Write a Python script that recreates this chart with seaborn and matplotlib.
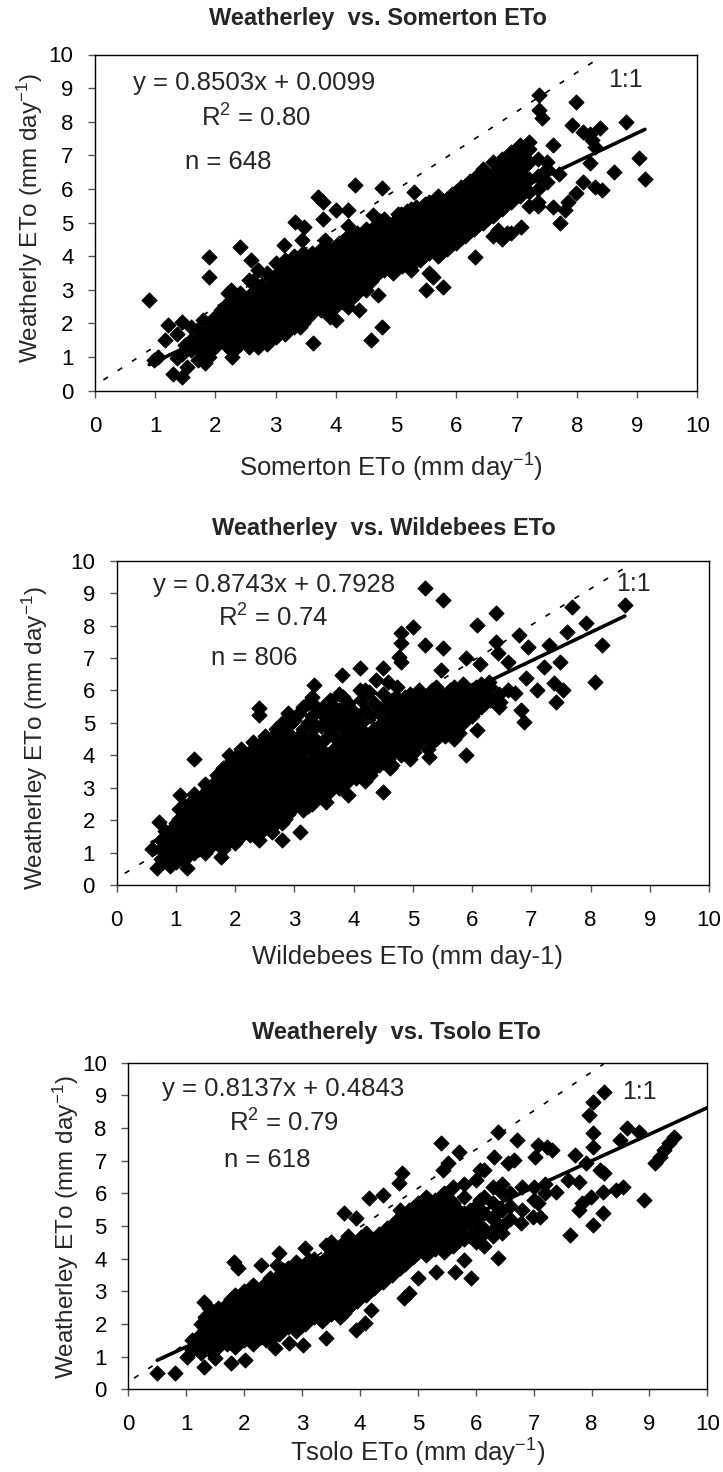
import numpy as np
import pandas as pd
import seaborn as sns
import matplotlib
matplotlib.use("Agg")
import matplotlib.pyplot as plt

# ---------------- data ----------------
titles = ["Weatherley  vs. Somerton ETo", "Weatherley  vs. Wildebees ETo", "Weatherely  vs. Tsolo ETo"]
xlabels = ["Somerton ETo (mm day$^{-1}$)", "Wildebees ETo (mm day-1)", "Tsolo ETo (mm day$^{-1}$)"]
ylabels = ["Weatherly ETo (mm day$^{-1}$)", "Weatherley ETo (mm day$^{-1}$)", "Weatherley ETo (mm day$^{-1}$)"]
slopes = [0.8503, 0.8743, 0.8137]
intercepts = [0.0099, 0.7928, 0.4843]
r2_values = ["0.80", "0.74", "0.79"]
n_values = [648, 806, 618]
trend_x_max = [None, None, 10.0]
ticks = [0, 1, 2, 3, 4, 5, 6, 7, 8, 9, 10]
# hand-drawn "1:1" reference lines (start / end points)
oneone_x = [[0.14, 8.4], [0.14, 8.66], [0.10, 8.21]]
oneone_y = [[0.32, 9.93], [0.36, 9.87], [0.34, 9.96]]

somerton_pts = [
    (0.9, 2.7), (0.98, 0.91), (1.05, 1.0), (1.21, 1.95), (1.44, 2.05), (1.17, 1.5), (1.36, 1.7),
    (1.29, 0.5), (1.44, 0.42), (1.52, 0.7), (1.36, 0.96), (1.6, 1.9), (1.79, 2.1), (1.71, 0.91),
    (1.82, 0.81), (1.9, 1.0), (1.9, 3.98), (1.9, 3.39), (2.4, 4.28), (2.17, 2.45), (2.2, 2.9),
    (2.28, 1.0), (2.59, 3.89), (2.7, 1.3), (3.13, 4.33), (3.32, 5.02), (3.47, 4.88), (3.43, 4.48),
    (3.4, 1.9), (3.62, 1.41), (3.7, 5.77), (3.78, 5.62), (3.78, 5.12), (3.82, 4.48), (3.85, 4.28),
    (4.0, 5.37), (4.2, 5.37), (4.31, 6.11), (4.0, 2.1), (4.39, 2.4), (4.58, 1.5), (4.77, 1.9),
    (4.7, 2.84), (4.62, 5.22), (4.77, 6.02), (5.3, 5.92), (5.08, 5.27), (5.5, 2.99), (5.62, 3.39),
    (5.77, 3.09), (5.55, 3.5), (5.23, 3.69), (6.31, 3.98), (6.69, 4.78), (7.07, 4.88), (6.84, 4.68),
    (7.38, 8.79), (7.38, 8.35), (7.42, 8.1), (7.99, 8.59), (7.61, 7.3), (7.72, 4.98), (7.61, 5.47),
    (7.8, 5.37), (7.92, 7.9), (8.1, 7.7), (8.3, 7.25), (8.38, 7.8), (8.26, 7.45), (8.22, 6.76),
    (8.1, 6.21), (8.3, 6.07), (8.41, 5.97), (7.99, 5.87), (8.61, 6.51), (8.82, 8.0), (9.03, 6.91),
    (9.13, 6.31), (8.22, 7.65), (7.5, 6.8), (7.7, 6.45), (7.85, 5.6), (7.35, 5.5),
    (1.45, 1.1), (1.5, 1.35), (1.65, 1.35), (1.7, 1.8), (1.75, 1.25), (1.75, 1.55), (1.9, 1.2),
    (1.9, 1.5), (1.9, 1.8), (1.95, 2.05), (2.05, 1.45), (2.05, 1.75), (2.0, 2.2),
    (1.6, 1.2), (1.6, 1.5), (1.8, 1.1), (1.8, 1.4), (1.8, 1.7), (2.0, 1.3), (2.0, 1.6), (2.0, 1.9),
    (2.1, 1.5), (2.1, 1.8), (2.1, 2.1), (2.1, 2.4),
    (2.25, 1.2), (2.25, 1.5), (2.25, 1.8), (2.25, 2.1), (2.25, 2.7), (2.25, 3.0),
    (2.4, 1.4), (2.4, 1.7), (2.4, 2.0), (2.4, 2.3), (2.4, 2.6), (2.4, 2.9),
    (2.55, 1.3), (2.55, 1.6), (2.55, 1.9), (2.55, 2.2), (2.55, 2.5), (2.55, 2.8), (2.55, 3.3),
    (2.7, 1.5), (2.7, 1.8), (2.7, 2.1), (2.7, 2.4), (2.7, 2.7), (2.7, 3.0), (2.7, 3.6),
    (2.85, 1.4), (2.85, 1.7), (2.85, 2.0), (2.85, 2.3), (2.85, 2.6), (2.85, 2.9), (2.85, 3.5),
    (3.0, 1.6), (3.0, 1.9), (3.0, 2.2), (3.0, 2.5), (3.0, 2.8), (3.0, 3.1), (3.0, 3.4), (3.0, 3.8),
    (3.15, 1.7), (3.15, 2.0), (3.15, 2.3), (3.15, 2.6), (3.15, 2.9), (3.15, 3.2), (3.15, 3.5), (3.15, 3.9),
    (3.3, 1.9), (3.3, 2.2), (3.3, 2.5), (3.3, 2.8), (3.3, 3.1), (3.3, 3.4), (3.3, 3.7), (3.3, 4.0),
    (3.45, 2.0), (3.45, 2.3), (3.45, 2.6), (3.45, 2.9), (3.45, 3.2), (3.45, 3.5), (3.45, 3.8), (3.45, 4.1),
    (3.6, 2.3), (3.6, 2.6), (3.6, 2.9), (3.6, 3.2), (3.6, 3.5), (3.6, 3.8), (3.6, 4.1),
    (3.75, 2.4), (3.75, 2.7), (3.75, 3.0), (3.75, 3.3), (3.75, 3.6), (3.75, 3.9), (3.75, 4.2),
    (3.9, 2.2), (3.9, 2.6), (3.9, 2.9), (3.9, 3.2), (3.9, 3.5), (3.9, 3.8), (3.9, 4.1),
    (4.05, 2.6), (4.05, 2.9), (4.05, 3.2), (4.05, 3.5), (4.05, 3.8), (4.05, 4.1), (4.05, 4.4),
    (4.2, 2.5), (4.2, 2.8), (4.2, 3.1), (4.2, 3.4), (4.2, 3.7), (4.2, 4.0), (4.2, 4.3), (4.2, 4.6), (4.2, 4.9),
    (4.35, 2.9), (4.35, 3.2), (4.35, 3.5), (4.35, 3.8), (4.35, 4.1), (4.35, 4.4), (4.35, 4.7),
    (4.5, 3.0), (4.5, 3.3), (4.5, 3.6), (4.5, 3.9), (4.5, 4.2), (4.5, 4.5), (4.5, 4.8),
    (4.65, 3.4), (4.65, 3.7), (4.65, 4.0), (4.65, 4.3), (4.65, 4.6), (4.65, 4.9),
    (4.8, 3.6), (4.8, 3.9), (4.8, 4.2), (4.8, 4.5), (4.8, 4.8), (4.8, 5.1),
    (4.95, 3.5), (4.95, 3.8), (4.95, 4.1), (4.95, 4.4), (4.95, 4.7), (4.95, 5.0),
    (5.1, 3.7), (5.1, 4.0), (5.1, 4.3), (5.1, 4.6), (5.1, 4.9), (5.1, 5.2),
    (5.25, 3.6), (5.25, 3.9), (5.25, 4.2), (5.25, 4.5), (5.25, 4.8), (5.25, 5.1), (5.25, 5.4),
    (5.4, 3.9), (5.4, 4.2), (5.4, 4.5), (5.4, 4.8), (5.4, 5.1), (5.4, 5.4),
    (5.55, 4.1), (5.55, 4.4), (5.55, 4.7), (5.55, 5.0), (5.55, 5.3), (5.55, 5.6),
    (5.7, 4.0), (5.7, 4.3), (5.7, 4.6), (5.7, 4.9), (5.7, 5.2), (5.7, 5.5), (5.7, 5.8),
    (5.85, 4.2), (5.85, 4.5), (5.85, 4.8), (5.85, 5.1), (5.85, 5.4), (5.85, 5.7),
    (6.0, 4.4), (6.0, 4.7), (6.0, 5.0), (6.0, 5.3), (6.0, 5.6), (6.0, 5.9),
    (6.15, 4.6), (6.15, 4.9), (6.15, 5.2), (6.15, 5.5), (6.15, 5.8), (6.15, 6.1),
    (6.3, 4.8), (6.3, 5.1), (6.3, 5.4), (6.3, 5.7), (6.3, 6.0), (6.3, 6.3),
    (6.45, 5.0), (6.45, 5.3), (6.45, 5.6), (6.45, 5.9), (6.45, 6.2), (6.45, 6.6),
    (6.6, 4.6), (6.6, 5.2), (6.6, 5.5), (6.6, 5.8), (6.6, 6.1), (6.6, 6.4), (6.6, 6.8),
    (6.75, 4.5), (6.75, 5.4), (6.75, 5.7), (6.75, 6.0), (6.75, 6.3), (6.75, 6.6), (6.75, 6.9),
    (6.9, 4.7), (6.9, 5.6), (6.9, 5.9), (6.9, 6.2), (6.9, 6.5), (6.9, 6.8), (6.9, 7.1),
    (7.05, 5.8), (7.05, 6.1), (7.05, 6.4), (7.05, 6.7), (7.05, 7.0), (7.05, 7.3),
    (7.2, 5.5), (7.2, 5.9), (7.2, 6.3), (7.2, 6.8), (7.2, 7.2), (7.2, 7.4),
    (7.35, 5.6), (7.35, 6.0), (7.35, 6.4), (7.35, 6.9), (7.5, 6.2), (7.5, 6.6),
    (2.175, 1.35), (2.175, 1.65), (2.175, 1.95), (2.175, 2.25), (2.175, 2.55),
    (2.325, 1.25), (2.325, 1.55), (2.325, 1.85), (2.325, 2.15), (2.325, 2.45), (2.325, 2.75),
    (2.475, 1.55), (2.475, 1.85), (2.475, 2.15), (2.475, 2.45), (2.475, 2.75),
    (2.625, 1.45), (2.625, 1.75), (2.625, 2.05), (2.625, 2.35), (2.625, 2.65), (2.625, 2.95), (2.625, 3.25),
    (2.775, 1.65), (2.775, 1.95), (2.775, 2.25), (2.775, 2.55), (2.775, 2.85), (2.775, 3.15),
    (2.925, 1.55), (2.925, 1.85), (2.925, 2.15), (2.925, 2.45), (2.925, 2.75), (2.925, 3.05), (2.925, 3.35),
    (3.075, 1.75), (3.075, 2.05), (3.075, 2.35), (3.075, 2.65), (3.075, 2.95), (3.075, 3.25), (3.075, 3.55),
    (3.225, 1.85), (3.225, 2.15), (3.225, 2.45), (3.225, 2.75), (3.225, 3.05), (3.225, 3.35), (3.225, 3.65),
    (3.375, 2.05), (3.375, 2.35), (3.375, 2.65), (3.375, 2.95), (3.375, 3.25), (3.375, 3.55), (3.375, 3.85),
    (3.525, 2.15), (3.525, 2.45), (3.525, 2.75), (3.525, 3.05), (3.525, 3.35), (3.525, 3.65), (3.525, 3.95),
    (3.675, 2.45), (3.675, 2.75), (3.675, 3.05), (3.675, 3.35), (3.675, 3.65), (3.675, 3.95),
    (3.825, 2.55), (3.825, 2.85), (3.825, 3.15), (3.825, 3.45), (3.825, 3.75), (3.825, 4.05),
    (3.975, 2.45), (3.975, 2.75), (3.975, 3.05), (3.975, 3.35), (3.975, 3.65), (3.975, 3.95), (3.975, 4.25),
    (4.125, 2.65), (4.125, 2.95), (4.125, 3.25), (4.125, 3.55), (4.125, 3.85), (4.125, 4.15), (4.125, 4.45),
    (4.275, 2.75), (4.275, 3.05), (4.275, 3.35), (4.275, 3.65), (4.275, 3.95), (4.275, 4.25), (4.275, 4.55),
    (4.425, 3.05), (4.425, 3.35), (4.425, 3.65), (4.425, 3.95), (4.425, 4.25), (4.425, 4.55),
    (4.575, 3.25), (4.575, 3.55), (4.575, 3.85), (4.575, 4.15), (4.575, 4.45), (4.575, 4.75),
    (4.725, 3.55), (4.725, 3.85), (4.725, 4.15), (4.725, 4.45), (4.725, 4.75), (4.725, 5.05),
    (4.875, 3.65), (4.875, 3.95), (4.875, 4.25), (4.875, 4.55), (4.875, 4.85),
    (5.025, 3.75), (5.025, 4.05), (5.025, 4.35), (5.025, 4.65), (5.025, 4.95), (5.025, 5.25),
    (5.175, 3.85), (5.175, 4.15), (5.175, 4.45), (5.175, 4.75), (5.175, 5.05), (5.175, 5.35),
    (5.325, 3.95), (5.325, 4.25), (5.325, 4.55), (5.325, 4.85), (5.325, 5.15), (5.325, 5.45),
    (5.475, 4.05), (5.475, 4.35), (5.475, 4.65), (5.475, 4.95), (5.475, 5.25), (5.475, 5.55),
    (5.625, 4.25), (5.625, 4.55), (5.625, 4.85), (5.625, 5.15), (5.625, 5.45),
    (5.775, 4.15), (5.775, 4.45), (5.775, 4.75), (5.775, 5.05), (5.775, 5.35), (5.775, 5.65),
    (5.925, 4.35), (5.925, 4.65), (5.925, 4.95), (5.925, 5.25), (5.925, 5.55), (5.925, 5.85),
    (6.075, 4.55), (6.075, 4.85), (6.075, 5.15), (6.075, 5.45), (6.075, 5.75), (6.075, 6.05),
    (6.225, 4.75), (6.225, 5.05), (6.225, 5.35), (6.225, 5.65), (6.225, 5.95), (6.225, 6.25),
    (6.375, 4.95), (6.375, 5.25), (6.375, 5.55), (6.375, 5.85), (6.375, 6.15), (6.375, 6.45),
    (6.525, 5.15), (6.525, 5.45), (6.525, 5.75), (6.525, 6.05), (6.525, 6.35),
    (6.675, 5.35), (6.675, 5.65), (6.675, 5.95), (6.675, 6.25), (6.675, 6.55),
    (6.825, 5.55), (6.825, 5.85), (6.825, 6.15), (6.825, 6.45), (6.825, 6.75),
    (6.975, 5.75), (6.975, 6.05), (6.975, 6.35), (6.975, 6.65), (6.975, 6.95),
    (7.125, 6.05), (7.125, 6.35), (7.125, 6.65), (7.125, 6.95),
]

wildebees_pts = [
    (0.72, 1.95), (0.68, 0.51), (1.19, 0.51), (1.07, 2.77), (1.31, 3.9), (1.77, 0.87),
    (2.4, 5.45), (2.4, 5.24), (2.4, 1.39), (2.63, 1.64), (2.79, 1.39), (3.1, 1.64), (3.53, 2.57),
    (3.91, 2.77), (4.5, 2.88), (4.61, 3.6), (5.28, 3.96), (5.9, 4.0), (6.09, 4.78), (5.74, 4.68),
    (6.87, 5.04), (6.83, 5.4), (7.1, 6.01), (7.53, 6.01), (7.42, 5.65), (7.38, 6.22), (7.49, 6.89),
    (7.3, 7.4), (7.22, 6.73), (6.91, 6.37), (6.95, 7.35), (6.79, 7.71), (8.08, 6.27), (8.19, 7.4),
    (7.92, 8.07), (7.61, 7.81), (7.69, 8.58), (8.58, 8.63), (6.4, 8.38), (6.4, 7.5), (6.09, 8.02),
    (5.9, 6.99), (6.13, 6.83), (5.2, 9.15), (5.51, 8.79), (5.0, 7.97), (4.81, 7.76), (4.81, 7.45),
    (4.77, 7.04), (4.81, 6.89), (5.2, 7.4), (5.51, 7.3), (5.47, 6.63), (4.5, 6.68), (4.11, 6.68),
    (3.8, 6.47), (4.38, 6.32), (4.58, 6.27), (4.73, 6.12), (4.11, 6.01), (4.26, 5.96), (3.33, 6.17),
    (3.49, 5.5), (6.44, 7.14), (6.6, 6.89), (6.6, 6.01), (6.72, 5.91), (6.48, 5.65), (6.29, 6.27),
    (6.09, 5.91),
    (0.6, 1.1), (0.75, 0.8), (0.75, 1.1), (0.75, 1.4),
    (0.9, 0.6), (0.9, 0.9), (0.9, 1.2), (0.9, 1.5),
    (1.0, 0.7), (1.0, 1.0), (1.0, 1.3), (1.0, 1.6), (1.0, 1.9),
    (1.1, 0.8), (1.1, 1.1), (1.1, 1.4), (1.1, 1.7), (1.1, 2.0), (1.1, 2.3),
    (1.2, 0.9), (1.2, 1.2), (1.2, 1.5), (1.2, 1.8), (1.2, 2.1), (1.2, 2.4),
    (1.3, 1.0), (1.3, 1.3), (1.3, 1.6), (1.3, 1.9), (1.3, 2.2), (1.3, 2.5), (1.3, 2.8),
    (1.4, 1.1), (1.4, 1.4), (1.4, 1.7), (1.4, 2.0), (1.4, 2.3), (1.4, 2.6),
    (1.5, 1.0), (1.5, 1.3), (1.5, 1.6), (1.5, 1.9), (1.5, 2.2), (1.5, 2.5), (1.5, 2.8), (1.5, 3.1),
    (1.6, 1.2), (1.6, 1.5), (1.6, 1.8), (1.6, 2.1), (1.6, 2.4), (1.6, 2.7), (1.6, 3.0),
    (1.7, 1.3), (1.7, 1.6), (1.7, 1.9), (1.7, 2.2), (1.7, 2.5), (1.7, 2.8), (1.7, 3.1), (1.7, 3.4),
    (1.8, 1.1), (1.8, 1.4), (1.8, 1.7), (1.8, 2.0), (1.8, 2.3), (1.8, 2.6), (1.8, 2.9), (1.8, 3.2), (1.8, 3.6),
    (1.9, 1.5), (1.9, 1.8), (1.9, 2.1), (1.9, 2.4), (1.9, 2.7), (1.9, 3.0), (1.9, 3.3), (1.9, 3.7), (1.9, 4.0),
    (2.0, 1.3), (2.0, 1.6), (2.0, 1.9), (2.0, 2.2), (2.0, 2.5), (2.0, 2.8), (2.0, 3.1), (2.0, 3.4), (2.0, 3.8),
    (2.1, 1.5), (2.1, 1.8), (2.1, 2.1), (2.1, 2.4), (2.1, 2.7), (2.1, 3.0), (2.1, 3.3), (2.1, 3.6), (2.1, 4.2),
    (2.2, 1.7), (2.2, 2.0), (2.2, 2.3), (2.2, 2.6), (2.2, 2.9), (2.2, 3.2), (2.2, 3.5), (2.2, 3.9),
    (2.3, 1.6), (2.3, 1.9), (2.3, 2.2), (2.3, 2.5), (2.3, 2.8), (2.3, 3.1), (2.3, 3.4), (2.3, 3.7), (2.3, 4.4),
    (2.4, 1.8), (2.4, 2.1), (2.4, 2.4), (2.4, 2.7), (2.4, 3.0), (2.4, 3.3), (2.4, 3.6), (2.4, 4.0),
    (2.5, 1.9), (2.5, 2.2), (2.5, 2.5), (2.5, 2.8), (2.5, 3.1), (2.5, 3.4), (2.5, 3.8), (2.5, 4.2), (2.5, 4.6),
    (2.6, 2.0), (2.6, 2.3), (2.6, 2.6), (2.6, 2.9), (2.6, 3.2), (2.6, 3.5), (2.6, 3.9), (2.6, 4.4),
    (2.7, 2.1), (2.7, 2.4), (2.7, 2.7), (2.7, 3.0), (2.7, 3.3), (2.7, 3.6), (2.7, 4.0), (2.7, 4.8),
    (2.8, 1.9), (2.8, 2.3), (2.8, 2.6), (2.8, 2.9), (2.8, 3.2), (2.8, 3.5), (2.8, 4.1), (2.8, 4.5), (2.8, 5.0),
    (2.9, 2.2), (2.9, 2.5), (2.9, 2.8), (2.9, 3.1), (2.9, 3.4), (2.9, 3.8), (2.9, 4.2), (2.9, 5.3),
    (3.0, 2.4), (3.0, 2.7), (3.0, 3.0), (3.0, 3.3), (3.0, 3.7), (3.0, 4.0), (3.0, 4.4), (3.0, 5.1),
    (3.15, 2.3), (3.15, 2.6), (3.15, 2.9), (3.15, 3.3), (3.15, 3.6), (3.15, 4.1), (3.15, 4.5), (3.15, 4.8), (3.15, 5.5),
    (3.3, 2.5), (3.3, 2.9), (3.3, 3.2), (3.3, 3.5), (3.3, 3.8), (3.3, 4.2), (3.3, 4.6), (3.3, 5.2), (3.3, 5.8),
    (3.45, 2.7), (3.45, 3.0), (3.45, 3.4), (3.45, 3.8), (3.45, 4.2), (3.45, 4.9), (3.45, 5.3),
    (3.6, 2.9), (3.6, 3.2), (3.6, 3.6), (3.6, 4.0), (3.6, 4.8), (3.6, 5.2), (3.6, 5.7),
    (3.75, 3.0), (3.75, 3.3), (3.75, 3.7), (3.75, 4.1), (3.75, 4.4), (3.75, 5.0), (3.75, 5.4), (3.75, 5.9),
    (3.9, 3.2), (3.9, 3.5), (3.9, 3.9), (3.9, 4.3), (3.9, 4.6), (3.9, 5.0), (3.9, 5.6),
    (4.05, 3.3), (4.05, 3.6), (4.05, 4.0), (4.05, 4.4), (4.05, 4.8), (4.05, 5.2),
    (4.2, 3.2), (4.2, 3.5), (4.2, 3.9), (4.2, 4.3), (4.2, 4.7), (4.2, 5.4), (4.2, 6.0),
    (4.35, 3.6), (4.35, 4.0), (4.35, 4.4), (4.35, 4.8), (4.35, 5.6),
    (4.5, 3.8), (4.5, 4.2), (4.5, 4.6), (4.5, 5.0), (4.5, 5.5), (4.5, 5.9),
    (4.65, 3.7), (4.65, 4.1), (4.65, 4.5), (4.65, 4.9), (4.65, 5.3), (4.65, 5.7),
    (4.8, 4.0), (4.8, 4.4), (4.8, 4.8), (4.8, 5.2), (4.8, 5.6),
    (4.95, 3.9), (4.95, 4.3), (4.95, 4.7), (4.95, 5.1), (4.95, 5.5), (4.95, 5.9),
    (5.1, 4.4), (5.1, 4.8), (5.1, 5.2), (5.1, 5.6), (5.1, 6.0),
    (5.25, 4.2), (5.25, 4.6), (5.25, 5.0), (5.25, 5.4), (5.25, 5.8),
    (5.4, 4.5), (5.4, 4.9), (5.4, 5.3), (5.4, 5.7), (5.4, 6.1),
    (5.55, 4.6), (5.55, 5.0), (5.55, 5.4), (5.55, 5.8),
    (5.7, 4.5), (5.7, 4.9), (5.7, 5.3), (5.7, 5.7), (5.7, 6.1),
    (5.85, 5.0), (5.85, 5.4), (5.85, 5.8), (5.85, 6.2),
    (6.0, 5.2), (6.0, 5.6), (6.0, 6.0), (6.15, 5.5), (6.15, 5.9), (6.15, 6.2),
    (6.3, 5.7), (6.3, 6.1), (6.45, 5.5), (6.45, 5.9),
    (0.825, 0.75), (0.825, 1.05), (0.825, 1.35), (0.825, 1.65),
    (0.95, 0.85), (0.95, 1.15), (0.95, 1.45), (0.95, 1.75),
    (1.05, 0.85), (1.05, 1.15), (1.05, 1.45), (1.05, 1.75), (1.05, 2.05), (1.05, 2.35),
    (1.15, 0.95), (1.15, 1.25), (1.15, 1.55), (1.15, 1.85), (1.15, 2.15), (1.15, 2.45),
    (1.25, 1.05), (1.25, 1.35), (1.25, 1.65), (1.25, 1.95), (1.25, 2.25), (1.25, 2.55),
    (1.35, 1.15), (1.35, 1.45), (1.35, 1.75), (1.35, 2.05), (1.35, 2.35), (1.35, 2.65),
    (1.45, 1.25), (1.45, 1.55), (1.45, 1.85), (1.45, 2.15), (1.45, 2.45), (1.45, 2.75),
    (1.55, 1.15), (1.55, 1.45), (1.55, 1.75), (1.55, 2.05), (1.55, 2.35), (1.55, 2.65), (1.55, 2.95),
    (1.65, 1.35), (1.65, 1.65), (1.65, 1.95), (1.65, 2.25), (1.65, 2.55), (1.65, 2.85), (1.65, 3.15),
    (1.75, 1.45), (1.75, 1.75), (1.75, 2.05), (1.75, 2.35), (1.75, 2.65), (1.75, 2.95), (1.75, 3.25),
    (1.85, 1.25), (1.85, 1.55), (1.85, 1.85), (1.85, 2.15), (1.85, 2.45), (1.85, 2.75), (1.85, 3.05), (1.85, 3.4),
    (1.95, 1.65), (1.95, 1.95), (1.95, 2.25), (1.95, 2.55), (1.95, 2.85), (1.95, 3.15), (1.95, 3.5), (1.95, 3.85),
    (2.05, 1.45), (2.05, 1.75), (2.05, 2.05), (2.05, 2.35), (2.05, 2.65), (2.05, 2.95), (2.05, 3.25), (2.05, 3.6), (2.05, 4.0),
    (2.15, 1.65), (2.15, 1.95), (2.15, 2.25), (2.15, 2.55), (2.15, 2.85), (2.15, 3.15), (2.15, 3.45), (2.15, 3.8),
    (2.25, 1.55), (2.25, 1.85), (2.25, 2.15), (2.25, 2.45), (2.25, 2.75), (2.25, 3.05), (2.25, 3.35), (2.25, 3.7), (2.25, 4.1),
    (2.35, 1.75), (2.35, 2.05), (2.35, 2.35), (2.35, 2.65), (2.35, 2.95), (2.35, 3.25), (2.35, 3.55), (2.35, 3.85), (2.35, 4.2),
    (2.45, 1.65), (2.45, 1.95), (2.45, 2.25), (2.45, 2.55), (2.45, 2.85), (2.45, 3.15), (2.45, 3.45), (2.45, 3.75), (2.45, 4.4),
    (2.55, 2.05), (2.55, 2.35), (2.55, 2.65), (2.55, 2.95), (2.55, 3.25), (2.55, 3.6), (2.55, 4.0), (2.55, 4.4),
    (2.65, 1.85), (2.65, 2.15), (2.65, 2.45), (2.65, 2.75), (2.65, 3.05), (2.65, 3.35), (2.65, 3.7), (2.65, 4.1), (2.65, 4.6),
    (2.75, 2.25), (2.75, 2.55), (2.75, 2.85), (2.75, 3.15), (2.75, 3.45), (2.75, 3.8), (2.75, 4.3),
    (2.85, 2.05), (2.85, 2.45), (2.85, 2.75), (2.85, 3.05), (2.85, 3.35), (2.85, 3.65), (2.85, 3.95), (2.85, 4.3), (2.85, 4.8),
    (2.95, 2.35), (2.95, 2.65), (2.95, 2.95), (2.95, 3.25), (2.95, 3.55), (2.95, 3.9), (2.95, 4.6), (2.95, 5.0),
    (3.075, 2.5), (3.075, 2.85), (3.075, 3.15), (3.075, 3.5), (3.075, 3.85), (3.075, 4.2), (3.075, 4.6), (3.075, 5.3),
    (3.225, 2.45), (3.225, 2.75), (3.225, 3.05), (3.225, 3.4), (3.225, 3.75), (3.225, 4.35), (3.225, 5.0), (3.225, 5.6),
    (3.375, 2.75), (3.375, 3.05), (3.375, 3.35), (3.375, 3.65), (3.375, 4.0), (3.375, 4.4), (3.375, 4.9), (3.375, 5.5),
    (3.525, 2.85), (3.525, 3.2), (3.525, 3.55), (3.525, 3.95), (3.525, 4.5), (3.525, 5.0), (3.525, 5.5),
    (3.675, 3.05), (3.675, 3.4), (3.675, 3.8), (3.675, 4.2), (3.675, 4.6), (3.675, 5.1), (3.675, 5.5),
    (3.825, 3.1), (3.825, 3.5), (3.825, 3.85), (3.825, 4.2), (3.825, 4.8), (3.825, 5.3), (3.825, 5.8),
    (3.975, 3.35), (3.975, 3.7), (3.975, 4.1), (3.975, 4.45), (3.975, 4.8), (3.975, 5.4),
    (4.125, 3.45), (4.125, 3.8), (4.125, 4.2), (4.125, 4.6), (4.125, 5.0), (4.125, 5.7),
    (4.275, 3.4), (4.275, 3.8), (4.275, 4.2), (4.275, 4.6), (4.275, 5.2),
    (4.425, 3.7), (4.425, 4.1), (4.425, 4.5), (4.425, 4.9), (4.425, 5.3),
    (4.575, 3.9), (4.575, 4.3), (4.575, 4.7), (4.575, 5.1), (4.575, 5.6),
    (4.725, 4.2), (4.725, 4.6), (4.725, 5.0), (4.725, 5.4), (4.725, 5.8),
    (4.875, 4.2), (4.875, 4.6), (4.875, 5.0), (4.875, 5.4), (4.875, 5.8),
    (5.025, 4.1), (5.025, 4.5), (5.025, 4.9), (5.025, 5.3), (5.025, 5.7),
    (5.175, 4.6), (5.175, 5.0), (5.175, 5.4), (5.175, 5.8),
    (5.325, 4.4), (5.325, 4.8), (5.325, 5.2), (5.325, 5.6), (5.325, 6.0),
    (5.475, 4.7), (5.475, 5.1), (5.475, 5.5), (5.475, 5.9),
    (5.625, 4.8), (5.625, 5.2), (5.625, 5.6), (5.625, 6.0),
    (5.775, 4.7), (5.775, 5.1), (5.775, 5.5), (5.775, 5.9),
    (5.925, 5.2), (5.925, 5.6), (5.925, 6.0), (6.075, 5.4), (6.075, 5.8), (6.075, 6.1),
    (6.225, 5.6), (6.225, 6.0),
]

tsolo_pts = [
    (0.5, 0.49), (0.8, 0.49), (1.02, 1.0), (1.3, 0.69), (1.3, 2.68), (1.5, 0.95), (1.78, 0.8),
    (2.01, 0.9), (1.82, 3.91), (1.89, 3.7), (2.29, 3.81), (2.57, 3.81), (2.61, 4.18), (2.37, 1.51),
    (2.53, 1.26), (2.77, 1.41), (3.01, 1.36), (3.05, 4.32), (3.41, 4.42), (3.41, 1.56), (3.73, 5.39),
    (3.93, 5.23), (3.93, 1.82), (4.08, 2.02), (4.2, 2.43), (4.16, 5.85), (4.4, 5.95), (4.72, 6.61),
    (4.68, 6.31), (4.76, 2.79), (4.84, 2.94), (5.0, 3.4), (5.32, 3.6), (5.4, 7.53), (5.44, 6.71),
    (5.52, 6.92), (5.72, 7.28), (5.64, 3.6), (5.92, 3.4), (5.8, 3.96), (6.39, 4.01), (6.07, 6.71),
    (6.31, 7.12), (6.39, 7.89), (6.71, 7.63), (6.67, 7.02), (6.55, 6.92), (6.79, 5.08), (7.03, 7.12),
    (7.07, 7.48), (7.23, 7.43), (7.31, 7.33), (6.99, 5.29), (7.11, 5.29), (7.07, 5.69), (7.39, 6.05),
    (7.63, 4.72), (7.71, 7.17), (7.59, 6.41), (7.79, 6.36), (7.83, 5.69), (7.79, 5.49), (7.91, 6.92),
    (8.03, 5.03), (7.99, 5.9), (7.95, 8.4), (8.03, 8.8), (8.22, 9.11), (8.03, 7.84), (8.03, 7.43),
    (8.15, 6.71), (8.22, 6.61), (8.19, 6.05), (8.19, 5.39), (8.42, 6.1), (8.54, 6.2), (8.5, 7.63),
    (8.62, 7.99), (8.82, 7.89), (8.9, 5.8), (9.1, 6.92), (9.18, 7.12), (9.26, 7.33), (9.34, 7.53),
    (9.42, 7.73),
    (1.1, 1.2), (1.1, 1.5), (1.25, 1.1), (1.25, 1.4), (1.25, 1.7), (1.25, 2.0),
    (1.4, 1.2), (1.4, 1.5), (1.4, 1.8), (1.4, 2.1), (1.4, 2.5),
    (1.55, 1.3), (1.55, 1.6), (1.55, 1.9), (1.55, 2.2), (1.55, 2.5),
    (1.7, 1.4), (1.7, 1.7), (1.7, 2.0), (1.7, 2.3), (1.7, 2.6),
    (1.85, 1.3), (1.85, 1.6), (1.85, 1.9), (1.85, 2.2), (1.85, 2.5), (1.85, 2.9),
    (2.0, 1.5), (2.0, 1.8), (2.0, 2.1), (2.0, 2.4), (2.0, 2.7), (2.0, 3.0),
    (2.15, 1.4), (2.15, 1.7), (2.15, 2.0), (2.15, 2.3), (2.15, 2.6), (2.15, 2.9), (2.15, 3.2),
    (2.3, 1.6), (2.3, 1.9), (2.3, 2.2), (2.3, 2.5), (2.3, 2.8), (2.3, 3.1),
    (2.45, 1.5), (2.45, 1.8), (2.45, 2.1), (2.45, 2.4), (2.45, 2.7), (2.45, 3.0), (2.45, 3.4),
    (2.6, 1.7), (2.6, 2.0), (2.6, 2.3), (2.6, 2.6), (2.6, 2.9), (2.6, 3.2), (2.6, 3.5),
    (2.75, 1.9), (2.75, 2.2), (2.75, 2.5), (2.75, 2.8), (2.75, 3.1), (2.75, 3.4), (2.75, 3.7),
    (2.9, 1.8), (2.9, 2.1), (2.9, 2.4), (2.9, 2.7), (2.9, 3.0), (2.9, 3.3), (2.9, 3.6), (2.9, 3.9),
    (3.05, 2.0), (3.05, 2.3), (3.05, 2.6), (3.05, 2.9), (3.05, 3.2), (3.05, 3.5), (3.05, 3.8),
    (3.2, 2.2), (3.2, 2.5), (3.2, 2.8), (3.2, 3.1), (3.2, 3.4), (3.2, 3.7), (3.2, 4.0),
    (3.35, 2.1), (3.35, 2.4), (3.35, 2.7), (3.35, 3.0), (3.35, 3.3), (3.35, 3.6), (3.35, 3.9),
    (3.5, 2.3), (3.5, 2.6), (3.5, 2.9), (3.5, 3.2), (3.5, 3.5), (3.5, 3.8), (3.5, 4.1), (3.5, 4.5),
    (3.65, 2.2), (3.65, 2.5), (3.65, 2.8), (3.65, 3.1), (3.65, 3.4), (3.65, 3.7), (3.65, 4.0), (3.65, 4.3),
    (3.8, 2.5), (3.8, 2.8), (3.8, 3.1), (3.8, 3.4), (3.8, 3.7), (3.8, 4.0), (3.8, 4.3), (3.8, 4.7),
    (3.95, 2.7), (3.95, 3.0), (3.95, 3.3), (3.95, 3.6), (3.95, 3.9), (3.95, 4.2), (3.95, 4.5),
    (4.1, 2.9), (4.1, 3.2), (4.1, 3.5), (4.1, 3.8), (4.1, 4.1), (4.1, 4.4), (4.1, 4.8),
    (4.25, 3.1), (4.25, 3.4), (4.25, 3.7), (4.25, 4.0), (4.25, 4.3), (4.25, 4.6),
    (4.4, 3.3), (4.4, 3.6), (4.4, 3.9), (4.4, 4.2), (4.4, 4.5), (4.4, 4.8),
    (4.55, 3.5), (4.55, 3.8), (4.55, 4.1), (4.55, 4.4), (4.55, 4.7), (4.55, 5.0),
    (4.7, 3.7), (4.7, 4.0), (4.7, 4.3), (4.7, 4.6), (4.7, 4.9), (4.7, 5.2), (4.7, 5.5),
    (4.85, 4.0), (4.85, 4.3), (4.85, 4.6), (4.85, 4.9), (4.85, 5.2), (4.85, 5.5),
    (5.0, 4.2), (5.0, 4.5), (5.0, 4.8), (5.0, 5.1), (5.0, 5.4), (5.0, 5.7),
    (5.15, 4.1), (5.15, 4.4), (5.15, 4.7), (5.15, 5.0), (5.15, 5.3), (5.15, 5.6), (5.15, 5.9),
    (5.3, 4.3), (5.3, 4.6), (5.3, 4.9), (5.3, 5.2), (5.3, 5.5), (5.3, 5.8),
    (5.45, 4.2), (5.45, 4.5), (5.45, 4.8), (5.45, 5.1), (5.45, 5.4), (5.45, 6.0),
    (5.6, 4.4), (5.6, 4.7), (5.6, 5.0), (5.6, 5.3), (5.6, 5.7), (5.6, 6.2),
    (5.8, 4.6), (5.8, 5.0), (5.8, 5.4), (5.8, 5.9), (5.8, 6.3),
    (6.0, 4.5), (6.0, 4.8), (6.0, 5.2), (6.0, 5.6), (6.0, 6.4),
    (6.15, 4.4), (6.15, 4.9), (6.15, 5.4), (6.15, 5.9), (6.15, 6.7),
    (6.3, 4.7), (6.3, 5.2), (6.3, 5.7), (6.3, 6.2),
    (6.45, 4.8), (6.45, 5.0), (6.45, 5.5), (6.45, 6.0), (6.45, 6.3),
    (6.6, 5.2), (6.6, 5.6), (6.6, 6.0), (6.8, 5.5), (6.8, 6.2),
    (7.0, 5.8), (7.0, 6.2), (7.2, 6.0), (7.2, 6.3),
    (1.325, 1.25), (1.325, 1.55), (1.325, 1.85), (1.325, 2.2),
    (1.475, 1.35), (1.475, 1.65), (1.475, 1.95), (1.475, 2.3),
    (1.625, 1.45), (1.625, 1.75), (1.625, 2.05), (1.625, 2.35),
    (1.775, 1.55), (1.775, 1.85), (1.775, 2.15), (1.775, 2.45), (1.775, 2.75),
    (1.925, 1.45), (1.925, 1.75), (1.925, 2.05), (1.925, 2.35), (1.925, 2.65),
    (2.075, 1.65), (2.075, 1.95), (2.075, 2.25), (2.075, 2.55), (2.075, 2.85),
    (2.225, 1.55), (2.225, 1.85), (2.225, 2.15), (2.225, 2.45), (2.225, 2.75), (2.225, 3.05),
    (2.375, 1.75), (2.375, 2.05), (2.375, 2.35), (2.375, 2.65), (2.375, 2.95), (2.375, 3.25),
    (2.525, 1.65), (2.525, 1.95), (2.525, 2.25), (2.525, 2.55), (2.525, 2.85), (2.525, 3.15),
    (2.675, 1.85), (2.675, 2.15), (2.675, 2.45), (2.675, 2.75), (2.675, 3.05), (2.675, 3.35), (2.675, 3.65),
    (2.825, 2.05), (2.825, 2.35), (2.825, 2.65), (2.825, 2.95), (2.825, 3.25), (2.825, 3.55),
    (2.975, 1.95), (2.975, 2.25), (2.975, 2.55), (2.975, 2.85), (2.975, 3.15), (2.975, 3.45), (2.975, 3.75),
    (3.125, 2.15), (3.125, 2.45), (3.125, 2.75), (3.125, 3.05), (3.125, 3.35), (3.125, 3.65), (3.125, 3.95),
    (3.275, 2.35), (3.275, 2.65), (3.275, 2.95), (3.275, 3.25), (3.275, 3.55), (3.275, 3.85),
    (3.425, 2.25), (3.425, 2.55), (3.425, 2.85), (3.425, 3.15), (3.425, 3.45), (3.425, 3.75), (3.425, 4.05),
    (3.575, 2.45), (3.575, 2.75), (3.575, 3.05), (3.575, 3.35), (3.575, 3.65), (3.575, 3.95), (3.575, 4.25),
    (3.725, 2.35), (3.725, 2.65), (3.725, 2.95), (3.725, 3.25), (3.725, 3.55), (3.725, 3.85), (3.725, 4.15), (3.725, 4.5),
    (3.875, 2.65), (3.875, 2.95), (3.875, 3.25), (3.875, 3.55), (3.875, 3.85), (3.875, 4.15), (3.875, 4.45),
    (4.025, 2.85), (4.025, 3.15), (4.025, 3.45), (4.025, 3.75), (4.025, 4.05), (4.025, 4.35), (4.025, 4.65),
    (4.175, 3.05), (4.175, 3.35), (4.175, 3.65), (4.175, 3.95), (4.175, 4.25), (4.175, 4.55),
    (4.325, 3.25), (4.325, 3.55), (4.325, 3.85), (4.325, 4.15), (4.325, 4.45), (4.325, 4.75),
    (4.475, 3.45), (4.475, 3.75), (4.475, 4.05), (4.475, 4.35), (4.475, 4.65), (4.475, 4.95),
    (4.625, 3.65), (4.625, 3.95), (4.625, 4.25), (4.625, 4.55), (4.625, 4.85), (4.625, 5.15),
    (4.775, 3.85), (4.775, 4.15), (4.775, 4.45), (4.775, 4.75), (4.775, 5.05), (4.775, 5.35),
    (4.925, 4.05), (4.925, 4.35), (4.925, 4.65), (4.925, 4.95), (4.925, 5.25), (4.925, 5.55),
    (5.075, 4.25), (5.075, 4.55), (5.075, 4.85), (5.075, 5.15), (5.075, 5.45), (5.075, 5.75),
    (5.225, 4.25), (5.225, 4.55), (5.225, 4.85), (5.225, 5.15), (5.225, 5.45), (5.225, 5.75),
    (5.375, 4.45), (5.375, 4.75), (5.375, 5.05), (5.375, 5.35), (5.375, 5.65),
    (5.525, 4.35), (5.525, 4.65), (5.525, 4.95), (5.525, 5.25), (5.525, 5.55), (5.525, 5.85),
    (5.7, 4.55), (5.7, 4.85), (5.7, 5.15), (5.7, 5.5),
    (5.9, 4.7), (5.9, 5.1), (5.9, 5.5), (6.075, 4.65), (6.075, 5.0), (6.075, 5.4), (6.075, 5.8),
    (6.375, 5.0), (6.375, 5.4),
]

point_sets = [somerton_pts, wildebees_pts, tsolo_pts]

# ---------------- layout ----------------
W, H = 723, 1472
axes_px = [(95, 54.5, 697.3, 390.7), (116.5, 560.7, 709, 885), (128.3, 1062.7, 707.3, 1389.3)]
title_px = [(378, 19), (384, 528), (396, 1033)]
xlabel_px = [(391, 468), (407, 957), (418, 1453)]
ylabel_px = [(30, 217.5), (35, 738), (66, 1227)]
eq_pos = [(2.65, 9.16), (2.66, 9.25), (2.68, 9.21)]
r2_pos = [(2.67, 8.12), (2.65, 8.22), (2.69, 8.14)]
n_pos = [(2.22, 6.8), (2.33, 7.0), (2.40, 7.02)]
one_pos = [(8.8, 9.25), (8.72, 9.28), (8.83, 9.11)]

sns.set_theme(style="white")
plt.rcParams["font.family"] = ["Liberation Sans", "DejaVu Sans"]
plt.rcParams["mathtext.fontset"] = "custom"
plt.rcParams["mathtext.rm"] = "Liberation Sans"
plt.rcParams["mathtext.it"] = "Liberation Sans:italic"
plt.rcParams["mathtext.default"] = "regular"

fig = plt.figure(figsize=(W / 100, H / 100), dpi=100)
fig.patch.set_facecolor("white")

for i in range(3):
    l, t, r, b = axes_px[i]
    ax = fig.add_axes([l / W, 1 - b / H, (r - l) / W, (b - t) / H])
    df = pd.DataFrame(point_sets[i], columns=["x", "y"])

    # 1:1 reference line (dashed)
    sns.lineplot(x=oneone_x[i], y=oneone_y[i], ax=ax, color="black", linewidth=1.2,
                 linestyle=(0, (3.2, 7.0)), zorder=2)
    # points
    sns.scatterplot(data=df, x="x", y="y", ax=ax, marker="D", s=58, color="black",
                    edgecolor="black", linewidth=0.8, zorder=3)
    # regression line
    x_end = trend_x_max[i] if trend_x_max[i] is not None else df["x"].max()
    tx = np.array([df["x"].min(), x_end])
    sns.lineplot(x=tx, y=slopes[i] * tx + intercepts[i], ax=ax, color="black",
                 linewidth=2.6, zorder=4)

    ax.set_xlim(0, 10)
    ax.set_ylim(0, 10)
    ax.set_xticks(ticks)
    ax.set_yticks(ticks)
    ax.set_xticklabels([str(v) for v in ticks])
    ax.set_yticklabels([str(v) for v in ticks])
    for sp in ax.spines.values():
        sp.set_visible(True)
        sp.set_color("black")
        sp.set_linewidth(1.0)
    ax.tick_params(axis="both", which="major", bottom=True, left=True, direction="out",
                   length=5, width=1, color="#555555", labelsize=16, labelcolor="black")
    ax.tick_params(axis="x", pad=13)
    ax.tick_params(axis="y", pad=10.5)
    ax.set_xlabel("")
    ax.set_ylabel("")

    ax.text(*eq_pos[i], f"y = {slopes[i]:.4f}x + {intercepts[i]:.4f}", ha="center", va="center", fontsize=18.5)
    ax.text(*r2_pos[i], f"R$^2$ = {r2_values[i]}", ha="center", va="center", fontsize=18.5)
    ax.text(*n_pos[i], f"n = {n_values[i]}", ha="center", va="center", fontsize=18.5)
    ax.text(*one_pos[i], "1:1", ha="center", va="center", fontsize=18)

    fig.text(title_px[i][0] / W, 1 - title_px[i][1] / H, titles[i], ha="center", va="center",
             fontsize=17, fontweight="bold")
    fig.text(xlabel_px[i][0] / W, 1 - xlabel_px[i][1] / H, xlabels[i], ha="center", va="center",
             fontsize=18.5)
    fig.text(ylabel_px[i][0] / W, 1 - ylabel_px[i][1] / H, ylabels[i], ha="center", va="center",
             fontsize=17.5, rotation=90)

fig.savefig("out.png", dpi=100, facecolor="white")
